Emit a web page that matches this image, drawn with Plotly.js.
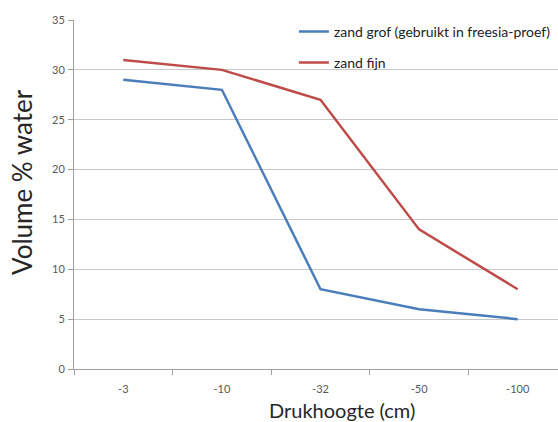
<!DOCTYPE html>
<html>
<head>
<meta charset="utf-8">
<script src="https://cdn.plot.ly/plotly-3.0.1.min.js"></script>
<style>
html,body{margin:0;padding:0;overflow:hidden;background:#fff;}
#chart{width:570px;height:422px;}
</style>
</head>
<body>
<div id="chart"></div>
<script>
const categories = ['-3', '-10', '-32', '-50', '-100'];
const grofValues = [29, 28, 8, 6, 5];
const fijnValues = [31, 30, 27, 14, 8];
const seriesNames = ['zand grof (gebruikt in freesia-proef)', 'zand fijn'];
const yTicks = [0, 5, 10, 15, 20, 25, 30, 35];

const FONT = 'Lato, "Open Sans", sans-serif';

const traces = [
  {x: categories, y: grofValues, name: seriesNames[0], type: 'scatter', mode: 'lines',
   line: {color: '#4a7ebb', width: 2.5}, legendgroup: 'a'},
  {x: categories, y: fijnValues, name: seriesNames[1], type: 'scatter', mode: 'lines',
   line: {color: '#be4b48', width: 2.5}, legendgroup: 'b'}
];

const layout = {
  width: 570, height: 422,
  margin: {l: 74, r: 3, t: 20, b: 53},
  paper_bgcolor: '#ffffff', plot_bgcolor: '#ffffff',
  font: {family: FONT, size: 11, color: '#595959'},
  showlegend: true,
  legend: {x: 0.446, y: 1.012, xanchor: 'left', yanchor: 'top', bgcolor: 'rgba(255,255,255,0)',
    font: {family: FONT, size: 14, color: '#222'}, traceorder: 'grouped', tracegroupgap: 10,
    itemwidth: 30},
  xaxis: {type: 'category', range: [-0.5, 4.5], tickson: 'boundaries', ticks: 'outside', ticklen: 5,
    tickcolor: '#a0a0a0', showline: true, linecolor: '#a0a0a0', linewidth: 1, showgrid: false,
    zeroline: false, fixedrange: true, ticklabelstandoff: 10,
    tickfont: {family: FONT, size: 11, color: '#595959'}},
  yaxis: {range: [0, 35], tickvals: yTicks, ticktext: yTicks.map(String), ticks: 'outside', ticklen: 5,
    tickcolor: '#a0a0a0', showline: true, linecolor: '#a0a0a0', linewidth: 1, showgrid: true,
    gridcolor: '#c8c8c8', gridwidth: 1, zeroline: false, ticklabelstandoff: 1,
    tickfont: {family: FONT, size: 11, color: '#595959'}},
  annotations: [
    {text: 'Drukhoogte (cm)', xref: 'paper', yref: 'paper', x: (342 - 74) / 493, y: -0.0, yshift: -41,
     xanchor: 'center', yanchor: 'middle', showarrow: false, font: {family: FONT, size: 20, color: '#262626'}},
    {text: 'Volume % water', xref: 'paper', yref: 'paper', x: 0, xshift: -52, y: (369 - 182) / 349,
     textangle: -90, xanchor: 'center', yanchor: 'middle', showarrow: false,
     font: {family: FONT, size: 26, color: '#262626'}}
  ]
};

Plotly.newPlot('chart', traces, layout, {displayModeBar: false, staticPlot: true});
</script>
</body>
</html>
